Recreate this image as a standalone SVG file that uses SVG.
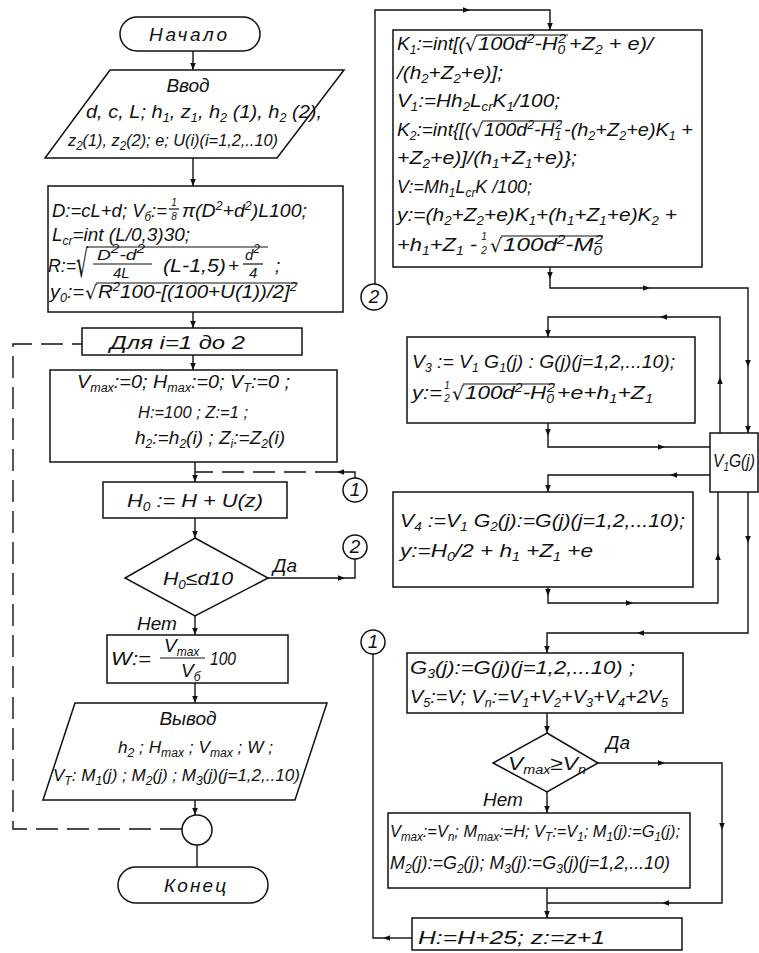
<svg xmlns="http://www.w3.org/2000/svg" width="759" height="953" viewBox="0 0 759 953">
<style>
.t{font-family:"Liberation Sans","DejaVu Sans",sans-serif;font-style:italic;font-size:19px;fill:#111}
.m{font-size:15px}
.f{font-size:10px}
.s17{font-size:17px}
.s18{font-size:18px}
.c{text-anchor:middle}
.b{font-size:12px;baseline-shift:-4px}
.p{font-size:12px;baseline-shift:7px}
.r{font-family:"DejaVu Sans","Liberation Sans",sans-serif;font-style:normal;font-size:19px;fill:#111}
.box{fill:#fff;stroke:#111;stroke-width:1.5}
.ln{fill:none;stroke:#111;stroke-width:1.4}
.dsh{stroke-dasharray:22 9}
.vin{stroke:#111;stroke-width:1.2}
</style>
<defs>
<marker id="ar" viewBox="0 0 10 10" refX="10" refY="5" markerWidth="9" markerHeight="7" markerUnits="userSpaceOnUse" orient="auto"><path d="M0,1 L10,5 L0,9 Z" fill="#111"/></marker>
</defs>
<rect width="759" height="953" fill="#fff"/>

<g id="connectors">
<path class="ln" d="M193,51 V70" marker-end="url(#ar)"/>
<path class="ln" d="M193,158 V186" marker-end="url(#ar)"/>
<path class="ln" d="M193,312 V328" marker-end="url(#ar)"/>
<path class="ln" d="M193,355 V370" marker-end="url(#ar)"/>
<path class="ln" d="M195,462 V482" marker-end="url(#ar)"/>
<path class="ln" d="M355,478 V472 H337" marker-end="url(#ar)"/>
<path class="ln dsh" d="M337,472 H195"/>
<path class="ln" d="M195,518 V538" marker-end="url(#ar)"/>
<path class="ln" d="M268,578 H345" marker-end="url(#ar)"/>
<path class="ln" d="M345,578 H355 V559"/>
<path class="ln" d="M195,616 V635" marker-end="url(#ar)"/>
<path class="ln" d="M195,683 V703" marker-end="url(#ar)"/>
<path class="ln" d="M195,800 V815" marker-end="url(#ar)"/>
<path class="ln" d="M197,845 V867"/>
<path class="ln dsh" d="M182,829 H13 V344 H82"/>

<path class="ln" d="M375,284 V10 H470" marker-end="url(#ar)"/>
<path class="ln" d="M470,10 H550 V30" marker-end="url(#ar)"/>
<path class="ln" d="M550,267 V279" marker-end="url(#ar)"/>
<path class="ln" d="M550,279 V288 H650" marker-end="url(#ar)"/>
<path class="ln" d="M650,288 H748 V367" marker-end="url(#ar)"/>
<path class="ln" d="M748,367 V433" marker-end="url(#ar)"/>
<path class="ln" d="M720,433 V377" marker-end="url(#ar)"/>
<path class="ln" d="M720,377 V317 H660" marker-end="url(#ar)"/>
<path class="ln" d="M660,317 H548 V337" marker-end="url(#ar)"/>
<path class="ln" d="M548,423 V436" marker-end="url(#ar)"/>
<path class="ln" d="M548,436 V447 H665" marker-end="url(#ar)"/>
<path class="ln" d="M665,447 H710"/>
<path class="ln" d="M710,475 H670" marker-end="url(#ar)"/>
<path class="ln" d="M670,475 H548 V492" marker-end="url(#ar)"/>
<path class="ln" d="M548,587 V596" marker-end="url(#ar)"/>
<path class="ln" d="M548,596 V603 H633" marker-end="url(#ar)"/>
<path class="ln" d="M633,603 H718 V553" marker-end="url(#ar)"/>
<path class="ln" d="M718,553 V492"/>
<path class="ln" d="M748,492 V543" marker-end="url(#ar)"/>
<path class="ln" d="M748,543 V633 H637" marker-end="url(#ar)"/>
<path class="ln" d="M637,633 H547 V653" marker-end="url(#ar)"/>
<path class="ln" d="M547,713 V733" marker-end="url(#ar)"/>
<path class="ln" d="M598,763 H665" marker-end="url(#ar)"/>
<path class="ln" d="M665,763 H722 V830" marker-end="url(#ar)"/>
<path class="ln" d="M722,830 V903 H662" marker-end="url(#ar)"/>
<path class="ln" d="M662,903 H547"/>
<path class="ln" d="M547,792 V813" marker-end="url(#ar)"/>
<path class="ln" d="M547,888 V918" marker-end="url(#ar)"/>
<path class="ln" d="M412,938 H383" marker-end="url(#ar)"/>
<path class="ln" d="M383,938 H373 V654"/>
</g>

<g id="start">
<rect class="box" x="120" y="17" width="140" height="34" rx="17"/>
<text class="t" x="149" y="41" textLength="78">Начало</text>
</g>

<g id="input">
<polygon class="box" points="110,70 344,70 277,158 45,158"/>
<text class="t c" x="188" y="92">Ввод</text>
<text class="t" x="86" y="118" textLength="236" lengthAdjust="spacingAndGlyphs">d, c, L; h<tspan class="b">1</tspan>, z<tspan class="b">1</tspan>, h<tspan class="b">2</tspan> (1), h<tspan class="b">2</tspan> (2),</text>
<text class="t s17" x="68" y="146" textLength="210" lengthAdjust="spacingAndGlyphs">z<tspan class="b">2</tspan>(1), z<tspan class="b">2</tspan>(2); e; U(i)(i=1,2,..10)</text>
</g>

<g id="init">
<rect class="box" x="48" y="186" width="295" height="126"/>
<text class="t" x="52" y="217" textLength="115" lengthAdjust="spacingAndGlyphs">D:=cL+d; V<tspan class="b">б</tspan>:=</text>
<text class="t f c" x="174" y="206">1</text>
<line class="vin" x1="169" y1="209" x2="179" y2="209"/>
<text class="t f c" x="174" y="220">8</text>
<text class="t" x="182" y="217" textLength="125" lengthAdjust="spacingAndGlyphs">π(D<tspan class="p">2</tspan>+d<tspan class="p">2</tspan>)L100;</text>
<text class="t" x="52" y="241" textLength="138" lengthAdjust="spacingAndGlyphs">L<tspan class="b">cr</tspan>=int (L/0,3)30;</text>
<text class="t" x="48" y="272" textLength="28" lengthAdjust="spacingAndGlyphs">R:=</text>
<text class="r" transform="translate(76,277) scale(1,2)">√</text>
<line class="vin" x1="87" y1="247" x2="268" y2="247"/>
<text class="t m" x="97" y="260" textLength="48" lengthAdjust="spacingAndGlyphs">D<tspan class="p">2</tspan>-d<tspan class="p">2</tspan></text>
<line class="vin" x1="93" y1="264" x2="152" y2="264"/>
<text class="t m" x="113" y="278">4L</text>
<text class="t" x="163" y="272" textLength="63" lengthAdjust="spacingAndGlyphs">(L-1,5)</text>
<text class="t" x="228" y="272">+</text>
<text class="t m" x="245" y="260">d<tspan class="p">2</tspan></text>
<line class="vin" x1="243" y1="264" x2="263" y2="264"/>
<text class="t m" x="249" y="278">4</text>
<text class="t" x="275" y="272">;</text>
<text class="t" x="50" y="298" textLength="34" lengthAdjust="spacingAndGlyphs">y<tspan class="b">0</tspan>:=</text>
<text class="r" x="85" y="299">√</text>
<line class="vin" x1="96" y1="283" x2="298" y2="283"/>
<text class="t" x="98" y="298" textLength="199" lengthAdjust="spacingAndGlyphs">R<tspan class="p">2</tspan>100-[(100+U(1))/2]<tspan class="p">2</tspan></text>
</g>

<g id="loop">
<rect class="box" x="82" y="328" width="220" height="27"/>
<text class="t" x="110" y="349" textLength="135" lengthAdjust="spacingAndGlyphs">Для  i=1  до 2</text>
</g>

<g id="reset">
<rect class="box" x="50" y="370" width="287" height="92"/>
<text class="t" x="77" y="388" textLength="213" lengthAdjust="spacingAndGlyphs">V<tspan class="b">max</tspan>:=0; H<tspan class="b">max</tspan>:=0; V<tspan class="b">T</tspan>:=0 ;</text>
<text class="t s17" x="138" y="418" textLength="110" lengthAdjust="spacingAndGlyphs">H:=100 ; Z:=1 ;</text>
<text class="t" x="135" y="444" textLength="150" lengthAdjust="spacingAndGlyphs">h<tspan class="b">2</tspan>:=h<tspan class="b">2</tspan>(i) ; Z<tspan class="b">i</tspan>:=Z<tspan class="b">2</tspan>(i)</text>
</g>

<g id="c1L">
<circle class="box" cx="355" cy="490" r="12"/>
<text class="t c" x="355" y="496" font-size="17">1</text>
</g>

<g id="h0">
<rect class="box" x="103" y="482" width="184" height="36"/>
<text class="t" x="127" y="507" textLength="136" lengthAdjust="spacingAndGlyphs">H<tspan class="b">0</tspan> := H + U(z)</text>
</g>

<g id="c2L">
<circle class="box" cx="355" cy="547" r="12"/>
<text class="t c" x="355" y="553" font-size="17">2</text>
</g>

<g id="dec1">
<polygon class="box" points="195,538 268,578 195,616 125,578"/>
<text class="t" x="163" y="585" textLength="70" lengthAdjust="spacingAndGlyphs">H<tspan class="b">0</tspan>≤d10</text>
<text class="t" x="273" y="572">Да</text>
<text class="t" x="137" y="630">Нет</text>
</g>

<g id="w">
<rect class="box" x="107" y="635" width="181" height="48"/>
<text class="t" x="111" y="665" textLength="40" lengthAdjust="spacingAndGlyphs">W:=</text>
<text class="t" x="164" y="652" font-size="16">V<tspan class="b">max</tspan></text>
<line class="vin" x1="160" y1="658" x2="205" y2="658"/>
<text class="t" x="181" y="677" font-size="16">V<tspan class="b">б</tspan></text>
<text class="t" x="210" y="665" textLength="26" lengthAdjust="spacingAndGlyphs">100</text>
</g>

<g id="output">
<polygon class="box" points="75,703 327,703 295,800 43,800"/>
<text class="t c" x="188" y="725">Вывод</text>
<text class="t s17" x="118" y="753" textLength="155" lengthAdjust="spacingAndGlyphs">h<tspan class="b">2</tspan> ; H<tspan class="b">max</tspan> ; V<tspan class="b">max</tspan> ;  W ;</text>
<text class="t s17" x="53" y="781" textLength="247" lengthAdjust="spacingAndGlyphs">V<tspan class="b">T</tspan>:  M<tspan class="b">1</tspan>(j) ; M<tspan class="b">2</tspan>(j) ; M<tspan class="b">3</tspan>(j)(j=1,2,..10)</text>
</g>

<g id="loopend">
<circle class="box" cx="197" cy="830" r="15"/>
</g>

<g id="end">
<rect class="box" x="118" y="867" width="150" height="36" rx="18"/>
<text class="t" x="164" y="892" textLength="62">Конец</text>
</g>

<g id="c2R">
<circle class="box" cx="374" cy="297" r="13"/>
<text class="t c" x="374" y="303" font-size="17">2</text>
</g>

<g id="k">
<rect class="box" x="393" y="30" width="309" height="237"/>
<text class="t" x="397" y="50" textLength="68" lengthAdjust="spacingAndGlyphs">K<tspan class="b">1</tspan>:=int[(</text>
<text class="r" x="465" y="51">√</text>
<line class="vin" x1="476" y1="35" x2="568" y2="35"/>
<text class="t" x="478" y="50" textLength="88" lengthAdjust="spacingAndGlyphs">100d<tspan class="p">2</tspan>-H<tspan class="b">0</tspan><tspan class="p" dx="-6">2</tspan></text>
<text class="t" x="569" y="50" textLength="84" lengthAdjust="spacingAndGlyphs">+Z<tspan class="b">2</tspan> + e)/</text>
<text class="t" x="397" y="79" textLength="106" lengthAdjust="spacingAndGlyphs">/(h<tspan class="b">2</tspan>+Z<tspan class="b">2</tspan>+e)];</text>
<text class="t" x="397" y="107" textLength="163" lengthAdjust="spacingAndGlyphs">V<tspan class="b">1</tspan>:=Hh<tspan class="b">2</tspan>L<tspan class="b">cr</tspan>K<tspan class="b">1</tspan>/100;</text>
<text class="t" x="397" y="136" textLength="74" lengthAdjust="spacingAndGlyphs">K<tspan class="b">2</tspan>:=int{[(</text>
<text class="r" x="471" y="137">√</text>
<line class="vin" x1="482" y1="121" x2="562" y2="121"/>
<text class="t" x="484" y="136" textLength="78" lengthAdjust="spacingAndGlyphs">100d<tspan class="p">2</tspan>-H<tspan class="b">1</tspan><tspan class="p" dx="-6">2</tspan></text>
<text class="t" x="564" y="136" textLength="129" lengthAdjust="spacingAndGlyphs">-(h<tspan class="b">2</tspan>+Z<tspan class="b">2</tspan>+e)K<tspan class="b">1</tspan> +</text>
<text class="t" x="397" y="164" textLength="180" lengthAdjust="spacingAndGlyphs">+Z<tspan class="b">2</tspan>+e)]/(h<tspan class="b">1</tspan>+Z<tspan class="b">1</tspan>+e)};</text>
<text class="t s18" x="397" y="193" textLength="135" lengthAdjust="spacingAndGlyphs">V:=Mh<tspan class="b">1</tspan>L<tspan class="b">cr</tspan>K /100;</text>
<text class="t" x="397" y="221" textLength="280" lengthAdjust="spacingAndGlyphs">y:=(h<tspan class="b">2</tspan>+Z<tspan class="b">2</tspan>+e)K<tspan class="b">1</tspan>+(h<tspan class="b">1</tspan>+Z<tspan class="b">1</tspan>+e)K<tspan class="b">2</tspan> +</text>
<text class="t" x="397" y="251" textLength="80" lengthAdjust="spacingAndGlyphs">+h<tspan class="b">1</tspan>+Z<tspan class="b">1</tspan> -</text>
<text class="t f c" x="484" y="240">1</text>
<text class="t f c" x="484" y="254">2</text>
<text class="r" x="490" y="252">√</text>
<line class="vin" x1="501" y1="236" x2="603" y2="236"/>
<text class="t" x="503" y="251" textLength="100" lengthAdjust="spacingAndGlyphs">100d<tspan class="p">2</tspan>-M<tspan class="b">0</tspan><tspan class="p" dx="-6">2</tspan></text>
</g>

<g id="v3">
<rect class="box" x="407" y="337" width="288" height="86"/>
<text class="t" x="412" y="368" textLength="263" lengthAdjust="spacingAndGlyphs">V<tspan class="b">3</tspan> := V<tspan class="b">1</tspan> G<tspan class="b">1</tspan>(j) : G(j)(j=1,2,...10);</text>
<text class="t" x="412" y="399" textLength="30" lengthAdjust="spacingAndGlyphs">y:=</text>
<text class="t f c" x="447" y="389">1</text>
<text class="t f c" x="447" y="402">2</text>
<text class="r" x="452" y="400">√</text>
<line class="vin" x1="463" y1="384" x2="555" y2="384"/>
<text class="t" x="465" y="399" textLength="90" lengthAdjust="spacingAndGlyphs">100d<tspan class="p">2</tspan>-H<tspan class="b">0</tspan><tspan class="p" dx="-6">2</tspan></text>
<text class="t" x="557" y="399" textLength="96" lengthAdjust="spacingAndGlyphs">+e+h<tspan class="b">1</tspan>+Z<tspan class="b">1</tspan></text>
</g>

<g id="vg">
<rect class="box" x="710" y="433" width="48" height="59"/>
<text class="t" x="713" y="467" textLength="42" lengthAdjust="spacingAndGlyphs">V<tspan class="b">1</tspan>G(j)</text>
</g>

<g id="v4">
<rect class="box" x="393" y="492" width="300" height="95"/>
<text class="t" x="400" y="527" textLength="285" lengthAdjust="spacingAndGlyphs">V<tspan class="b">4</tspan> :=V<tspan class="b">1</tspan> G<tspan class="b">2</tspan>(j):=G(j)(j=1,2,...10);</text>
<text class="t" x="400" y="557" textLength="193" lengthAdjust="spacingAndGlyphs">y:=H<tspan class="b">0</tspan>/2 + h<tspan class="b">1</tspan> +Z<tspan class="b">1</tspan> +e</text>
</g>

<g id="g3">
<rect class="box" x="407" y="653" width="276" height="60"/>
<text class="t" x="410" y="674" textLength="225" lengthAdjust="spacingAndGlyphs">G<tspan class="b">3</tspan>(j):=G(j)(j=1,2,...10) ;</text>
<text class="t" x="410" y="703" textLength="258" lengthAdjust="spacingAndGlyphs">V<tspan class="b">5</tspan>:=V; V<tspan class="b">n</tspan>:=V<tspan class="b">1</tspan>+V<tspan class="b">2</tspan>+V<tspan class="b">3</tspan>+V<tspan class="b">4</tspan>+2V<tspan class="b">5</tspan></text>
</g>

<g id="dec2">
<polygon class="box" points="547,733 598,763 547,792 493,763"/>
<text class="t" x="508" y="770" font-size="18" textLength="78" lengthAdjust="spacingAndGlyphs">V<tspan class="b">max</tspan>≥V<tspan class="b">n</tspan></text>
<text class="t" x="606" y="749">Да</text>
<text class="t" x="483" y="806">Нет</text>
</g>

<g id="c1R">
<circle class="box" cx="373" cy="642" r="12"/>
<text class="t c" x="373" y="648" font-size="17">1</text>
</g>

<g id="upd">
<rect class="box" x="388" y="813" width="302" height="75"/>
<text class="t s17" x="390" y="837" textLength="290" lengthAdjust="spacingAndGlyphs">V<tspan class="b">max</tspan>:=V<tspan class="b">n</tspan>; M<tspan class="b">max</tspan>:=H; V<tspan class="b">T</tspan>:=V<tspan class="b">1</tspan>; M<tspan class="b">1</tspan>(j):=G<tspan class="b">1</tspan>(j);</text>
<text class="t s18" x="390" y="869" textLength="280" lengthAdjust="spacingAndGlyphs">M<tspan class="b">2</tspan>(j):=G<tspan class="b">2</tspan>(j); M<tspan class="b">3</tspan>(j):=G<tspan class="b">3</tspan>(j)(j=1,2,...10)</text>
</g>

<g id="hinc">
<rect class="box" x="412" y="918" width="270" height="32"/>
<text class="t" x="418" y="944" textLength="187" lengthAdjust="spacingAndGlyphs">H:=H+25;  z:=z+1</text>
</g>
</svg>
